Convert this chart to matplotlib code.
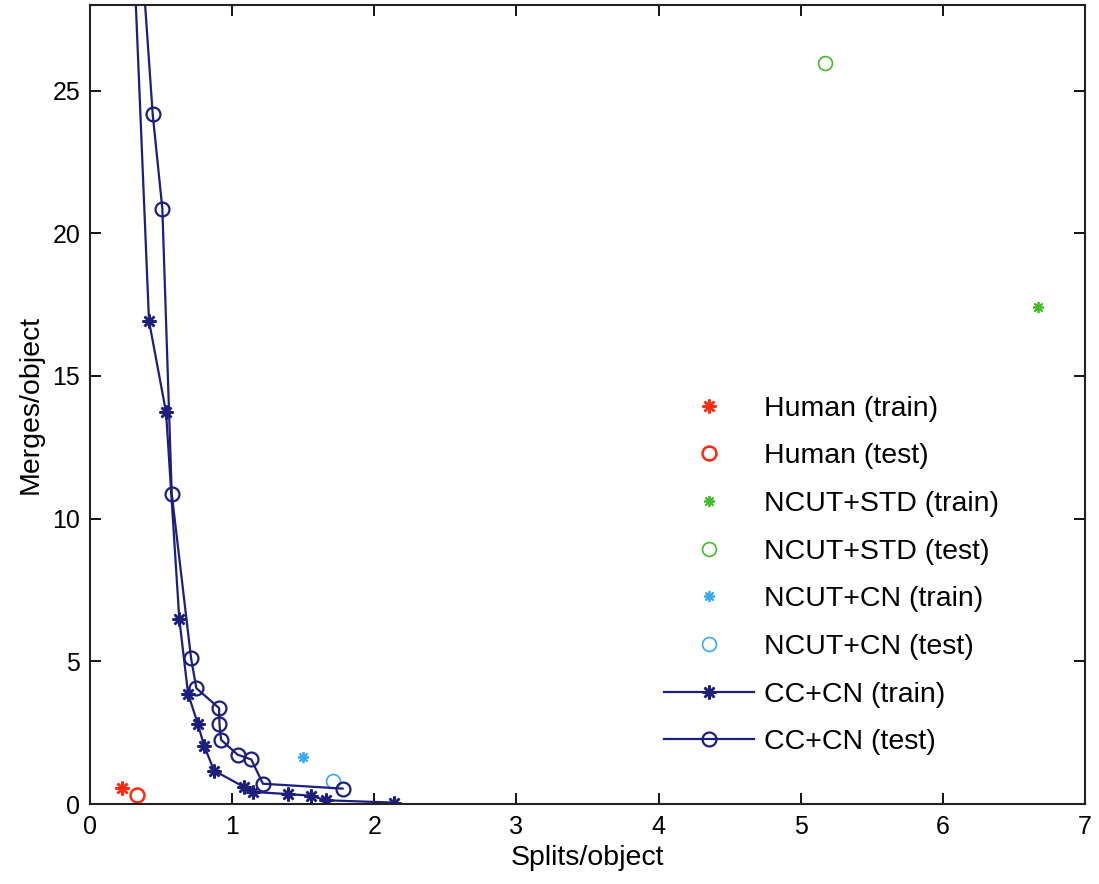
import matplotlib
matplotlib.use("Agg")
import matplotlib.pyplot as plt

plt.rcParams['font.family'] = ['Liberation Sans', 'DejaVu Sans']

# Data (Splits/object, Merges/object)
human_train_x = [0.227]
human_train_y = [0.57]
human_test_x = [0.329]
human_test_y = [0.32]
ncut_std_train_x = [6.671]
ncut_std_train_y = [17.42]
ncut_std_test_x = [5.172]
ncut_std_test_y = [25.95]
ncut_cn_train_x = [1.501]
ncut_cn_train_y = [1.66]
ncut_cn_test_x = [1.708]
ncut_cn_test_y = [0.81]
cc_train_x = [0.26, 0.415, 0.535, 0.628, 0.690, 0.760, 0.802, 0.873, 1.082, 1.147, 1.390, 1.555, 1.661, 2.136]
cc_train_y = [35.5, 16.93, 13.73, 6.50, 3.86, 2.79, 2.05, 1.17, 0.60, 0.42, 0.35, 0.29, 0.13, 0.05]
cc_test_x = [0.318, 0.441, 0.509, 0.575, 0.711, 0.748, 0.908, 0.911, 0.922, 1.038, 1.135, 1.217, 1.777]
cc_test_y = [33.0, 24.18, 20.86, 10.87, 5.11, 4.06, 3.36, 2.79, 2.25, 1.73, 1.56, 0.71, 0.54]

xticks = [0, 1, 2, 3, 4, 5, 6, 7]
yticks = [0, 5, 10, 15, 20, 25]

navy = '#1c1f7c'
red = '#ff2a10'
green = '#44bb2a'
cyan = '#3aaaf0'
star = (8, 2, 0)

fig = plt.figure(figsize=(10.99, 8.84), dpi=100)
ax = fig.add_axes([90/1099, 1-804/884, (1085-90)/1099, (804-5)/884])

ax.plot(human_train_x, human_train_y, ls='none', marker=star, ms=10, mew=1.8, color=red, label='Human (train)')
ax.plot(human_test_x, human_test_y, ls='none', marker='o', ms=10, mew=1.8, mfc='none', color=red, label='Human (test)')
ax.plot(ncut_std_train_x, ncut_std_train_y, ls='none', marker=star, ms=8, mew=1.3, color=green, label='NCUT+STD (train)')
ax.plot(ncut_std_test_x, ncut_std_test_y, ls='none', marker='o', ms=10, mew=1.2, mfc='none', color=green, label='NCUT+STD (test)')
ax.plot(ncut_cn_train_x, ncut_cn_train_y, ls='none', marker=star, ms=8, mew=1.3, color=cyan, label='NCUT+CN (train)')
ax.plot(ncut_cn_test_x, ncut_cn_test_y, ls='none', marker='o', ms=10, mew=1.2, mfc='none', color=cyan, label='NCUT+CN (test)')
ax.plot(cc_train_x, cc_train_y, '-', lw=1.6, marker=star, ms=10, mew=1.8, color=navy, label='CC+CN (train)')
ax.plot(cc_test_x, cc_test_y, '-', lw=1.6, marker='o', ms=10, mew=1.6, mfc='none', color=navy, label='CC+CN (test)')

ax.set_xlim(0, 7)
ax.set_ylim(0, 28)
ax.set_xticks(xticks)
ax.set_yticks(yticks)
ax.tick_params(direction='in', length=8, width=1.3, top=True, right=True, labelsize=18)
ax.tick_params(axis='x', pad=8)
ax.tick_params(axis='y', pad=7)
for s in ax.spines.values():
    s.set_linewidth(1.5)
    s.set_color('#222222')

ax.set_xlabel('Splits/object', fontsize=20.5, labelpad=4)
ax.set_ylabel('Merges/object', fontsize=20.5, labelpad=6)

leg = ax.legend(loc='upper left', bbox_to_anchor=(0.577, 0.511), frameon=False,
                fontsize=20.5, handlelength=3.15, handletextpad=0.35, labelspacing=0.76,
                borderpad=0, borderaxespad=0)

fig.savefig('out.png', dpi=100)
